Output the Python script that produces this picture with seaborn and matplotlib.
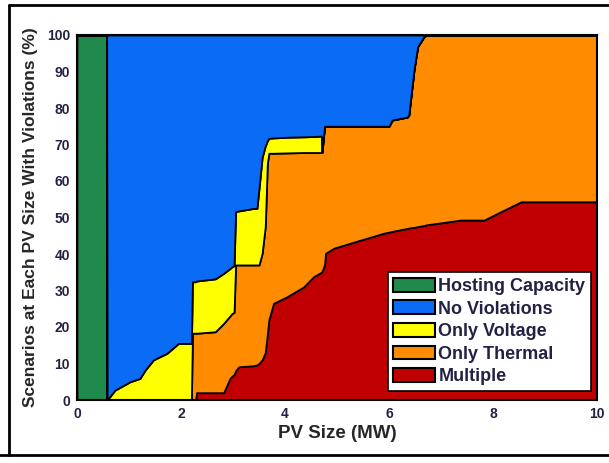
import numpy as np
import matplotlib
matplotlib.use("Agg")
import matplotlib.pyplot as plt
from matplotlib.patches import Patch
from matplotlib.lines import Line2D
import seaborn as sns

# PV size (MW) grid and the top edge of each stacked band (%)
pv_size = [0.0, 0.57, 0.58, 0.73, 1.02, 1.21, 1.31, 1.47, 1.73, 1.95, 2.18, 2.20,
           2.22, 2.28, 2.30, 2.66, 2.82, 2.94, 2.98, 3.02, 3.05, 3.11, 3.40, 3.46,
           3.50, 3.56, 3.62, 3.66, 3.69, 3.78, 4.04, 4.36, 4.55, 4.70, 4.71, 4.76,
           4.78, 4.94, 5.45, 5.90, 6.00, 6.06, 6.35, 6.38, 6.42, 6.48, 6.55, 6.67,
           6.72, 6.93, 7.38, 7.83, 8.15, 8.54, 10.0]
hosting_top = [100, 100, 0, 0, 0, 0, 0, 0, 0, 0, 0, 0,
               0, 0, 0, 0, 0, 0, 0, 0, 0, 0, 0, 0,
               0, 0, 0, 0, 0, 0, 0, 0, 0, 0, 0, 0,
               0, 0, 0, 0, 0, 0, 0, 0, 0, 0, 0, 0,
               0, 0, 0, 0, 0, 0, 0]
multiple_top = [0, 0, 0, 0, 0, 0, 0, 0, 0, 0, 0, 0,
                0, 0, 2, 2, 2, 5.9, 6.5, 7, 8, 9.1, 9.4, 9.6,
                10, 11, 13, 18, 22, 26.5, 28.3, 31, 33.8, 35, 35.2, 37,
                40.2, 41.6, 43.8, 45.7, 46, 46.2, 47, 47.1, 47.2, 47.3, 47.5, 47.8,
                48, 48.4, 49.3, 49.3, 51.6, 54.3, 54.3]
thermal_top = [0, 0, 0, 0, 0, 0, 0, 0, 0, 0, 0, 0,
               18.3, 18.3, 18.3, 18.7, 21, 23, 23.7, 24, 37, 37, 37, 37,
               37, 40.2, 47.5, 64.8, 67.6, 67.6, 67.7, 67.8, 67.8, 67.8, 67.8, 75,
               75, 75, 75, 75, 75, 76.7, 77.5, 78, 83, 90.4, 96.8, 99.5,
               100, 100, 100, 100, 100, 100, 100]
voltage_top = [0, 0, 0, 2.7, 5, 5.9, 8.2, 11, 12.8, 15.5, 15.5, 15.5,
               32.4, 32.4, 32.6, 33.2, 34.7, 36, 36.5, 36.8, 51.6, 51.8, 52.5, 52.5,
               58, 66.5, 69.6, 71, 71.7, 71.8, 72, 72.1, 72.2, 72.3, 67.8, 75,
               75, 75, 75, 75, 75, 76.7, 77.5, 78, 83, 90.4, 96.8, 99.5,
               100, 100, 100, 100, 100, 100, 100]

labels = ["Hosting Capacity", "No Violations", "Only Voltage", "Only Thermal", "Multiple"]
colors = ["#1f8a4c", "#0a6cf5", "#ffff00", "#ff8c00", "#c00000"]

sns.set_style("white")
plt.rcParams["font.family"] = ["Liberation Sans", "DejaVu Sans"]
plt.rcParams["font.weight"] = "bold"

x = np.array(pv_size)
hc = np.array(hosting_top, dtype=float)
m = np.array(multiple_top, dtype=float)
t = np.array(thermal_top, dtype=float) - m
v = np.array(voltage_top, dtype=float) - np.array(thermal_top, dtype=float)
nv = 100 - np.array(voltage_top, dtype=float) - hc

fig = plt.figure(figsize=(6.09, 4.63), dpi=100)
ax = fig.add_axes([77 / 609, 63 / 463, 520 / 609, 365 / 463])

ax.stackplot(x, hc, m, t, v, nv,
             colors=[colors[0], colors[4], colors[3], colors[2], colors[1]],
             edgecolor="black", linewidth=1.3)

ax.set_xlim(0, 10)
ax.set_ylim(0, 100)
ax.set_xticks(range(0, 11, 2))
ax.set_yticks(range(0, 101, 10))
ax.tick_params(axis="both", direction="out", length=3, width=1, labelsize=10,
               colors="black", pad=2)
for lab in ax.get_xticklabels() + ax.get_yticklabels():
    lab.set_fontweight("bold")
    lab.set_color("#222244")
for sp in ax.spines.values():
    sp.set_color("black")
    sp.set_linewidth(1.5)

ax.set_xlabel("PV Size (MW)", fontsize=13.5, fontweight="bold", labelpad=3)
ax.set_ylabel("Scenarios at Each PV Size With Violations (%)", fontsize=12.5,
              fontweight="bold", labelpad=6)

handles = [Patch(facecolor=c, edgecolor="black", linewidth=1.5) for c in colors]
leg = ax.legend(handles, labels, loc="lower right", bbox_to_anchor=(0.988, 0.025),
                fancybox=False, framealpha=1, edgecolor="black", fontsize=13,
                handlelength=2.3, handleheight=0.8, handletextpad=0.2,
                labelspacing=0.3, borderpad=0.3, borderaxespad=0)
leg.get_frame().set_linewidth(1.2)
for txt in leg.get_texts():
    txt.set_color("#222244")

# outer frame of the clipped figure
fig.add_artist(Line2D([9 / 609, 1], [1 - 5 / 463, 1 - 5 / 463], color="black", lw=2))
fig.add_artist(Line2D([9 / 609, 9 / 609], [1 - 5 / 463, 1 - 455 / 463], color="black", lw=2))
fig.add_artist(Line2D([0, 1], [1 - 455 / 463, 1 - 455 / 463], color="black", lw=2))

fig.savefig("out.png", dpi=100)
